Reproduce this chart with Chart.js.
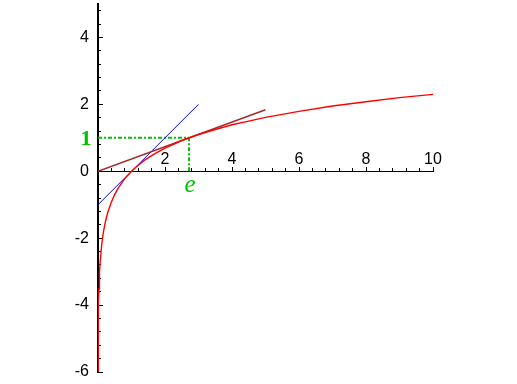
<!DOCTYPE html>
<html><head><meta charset="utf-8">
<script src="https://cdn.jsdelivr.net/npm/chart.js@4/dist/chart.umd.min.js"></script>
<style>html,body{margin:0;padding:0;background:#fff;}#wrap{width:517px;height:384px;}</style>
</head><body><div id="wrap"><canvas id="c" width="517" height="384"></canvas></div>
<script>
// ---- data ----
const lnX = [0.0025, 0.003, 0.004, 0.006, 0.008, 0.01, 0.015, 0.02, 0.03, 0.04, 0.05, 0.07, 0.1, 0.13, 0.16, 0.2, 0.25, 0.3, 0.4, 0.5, 0.6, 0.7, 0.8, 0.9, 1, 1.2, 1.4, 1.7, 2, 2.5, 3, 3.5, 4, 4.5, 5, 6, 7, 8, 9, 10];
const lnY = [-6.0, -5.81, -5.52, -5.12, -4.83, -4.61, -4.2, -3.91, -3.51, -3.22, -3.0, -2.66, -2.3, -2.04, -1.83, -1.61, -1.39, -1.2, -0.92, -0.69, -0.51, -0.36, -0.22, -0.11, 0, 0.18, 0.34, 0.53, 0.69, 0.92, 1.1, 1.25, 1.39, 1.5, 1.61, 1.79, 1.95, 2.08, 2.2, 2.3];
const tan1X = [0, 3];
const tan1Y = [-1, 2];
const tanEX = [0, 5];
const tanEY = [0, 1.84];
const guideHX = [0, 2.718];
const guideHY = [1, 1];
const guideVX = [2.718, 2.718];
const guideVY = [0, 1];
const eMark = 2.718;
const oneMark = 1;
const xTickLabels = [2, 4, 6, 8, 10];
const yTickLabels = [-6, -4, -2, 0, 2, 4];
const xRange = [0, 10];
const yRange = [-6, 5];
const minorStep = 0.4;

const pts = (xs, ys) => xs.map((x, i) => ({x: x, y: ys[i]}));
const minorTicks = (a, b) => { const t = []; for (let i = 0; a + i * minorStep <= b + 1e-9; i++) t.push({value: +(a + i * minorStep).toFixed(4)}); return t; };
const zeroPad = s => { s.paddingLeft = 0; s.paddingRight = 0; s.paddingTop = 0; s.paddingBottom = 0; };

const GREEN = '#00c000';
const tickFont = {family: '"Liberation Sans", Arial, sans-serif', size: 16};

const labelPlugin = {
  id: 'markLabels',
  afterDraw(chart) {
    const ctx = chart.ctx, xs = chart.scales.x, ys = chart.scales.y;
    ctx.save();
    ctx.fillStyle = GREEN;
    ctx.textAlign = 'center';
    ctx.textBaseline = 'middle';
    ctx.font = 'bold 22px "Liberation Serif", "Times New Roman", serif';
    ctx.fillText('1', xs.getPixelForValue(0) - 12, ys.getPixelForValue(oneMark) + 1);
    ctx.font = 'italic 25px "Liberation Serif", "Times New Roman", serif';
    ctx.fillText('e', xs.getPixelForValue(eMark) + 1, ys.getPixelForValue(0) + 14);
    ctx.restore();
  }
};

const line = (data, color, width, dash) => ({
  data: data, showLine: true, borderColor: color, backgroundColor: color,
  borderWidth: width, pointRadius: 0, tension: 0, fill: false, borderDash: dash || []
});

new Chart(document.getElementById('c'), {
  type: 'scatter',
  data: {
    datasets: [
      line(pts(lnX, lnY), '#ff0000', 1.4),
      line(pts(tanEX, tanEY), '#a52a2a', 1.5),
      line(pts(tan1X, tan1Y), '#0000ff', 1),
      line(pts(guideHX, guideHY), GREEN, 2, [4, 2, 2, 2]),
      line(pts(guideVX, guideVY), GREEN, 2, [4, 2, 2, 2])
    ]
  },
  options: {
    responsive: false,
    animation: false,
    devicePixelRatio: 1,
    layout: {padding: {left: 0, right: 84, top: 4, bottom: 12}},
    plugins: {legend: {display: false}, tooltip: {enabled: false}},
    scales: {
      y: {
        type: 'linear', axis: 'y', min: yRange[0], max: yRange[1], position: 'left', weight: 1,
        afterBuildTicks: s => { s.ticks = yTickLabels.map(v => ({value: v})); },
        afterFit: s => { s.width = 98; zeroPad(s); },
        grid: {drawOnChartArea: false, tickLength: -5, tickColor: '#000', tickWidth: 1},
        border: {display: true, color: '#000', width: 2},
        ticks: {color: '#000', font: tickFont, padding: 14, autoSkip: false, callback: v => String(v)}
      },
      yMinor: {
        type: 'linear', axis: 'y', min: yRange[0], max: yRange[1], position: {x: 0},
        afterBuildTicks: s => { s.ticks = minorTicks(yRange[0], yRange[1] - 0.1); },
        afterFit: s => { s.width = 0; zeroPad(s); },
        grid: {drawOnChartArea: false, tickLength: -3, tickColor: '#000', tickWidth: 1},
        border: {display: false},
        ticks: {display: false}
      },
      x: {
        type: 'linear', axis: 'x', min: xRange[0], max: xRange[1], position: {y: 0},
        afterBuildTicks: s => { s.ticks = xTickLabels.map(v => ({value: v})); },
        afterFit: s => { s.height = 0; zeroPad(s); },
        grid: {drawOnChartArea: false, tickLength: -5, tickColor: '#000', tickWidth: 1},
        border: {display: true, color: '#000', width: 1},
        ticks: {color: '#000', font: tickFont, padding: -16, maxRotation: 0, autoSkip: false, callback: v => String(v)}
      },
      xMinor: {
        type: 'linear', axis: 'x', min: xRange[0], max: xRange[1], position: {y: 0},
        afterBuildTicks: s => { s.ticks = minorTicks(xRange[0], xRange[1]); },
        afterFit: s => { s.height = 0; zeroPad(s); },
        grid: {drawOnChartArea: false, tickLength: -3, tickColor: '#000', tickWidth: 1},
        border: {display: false},
        ticks: {display: false}
      }
    }
  },
  plugins: [labelPlugin]
});
</script></body></html>
